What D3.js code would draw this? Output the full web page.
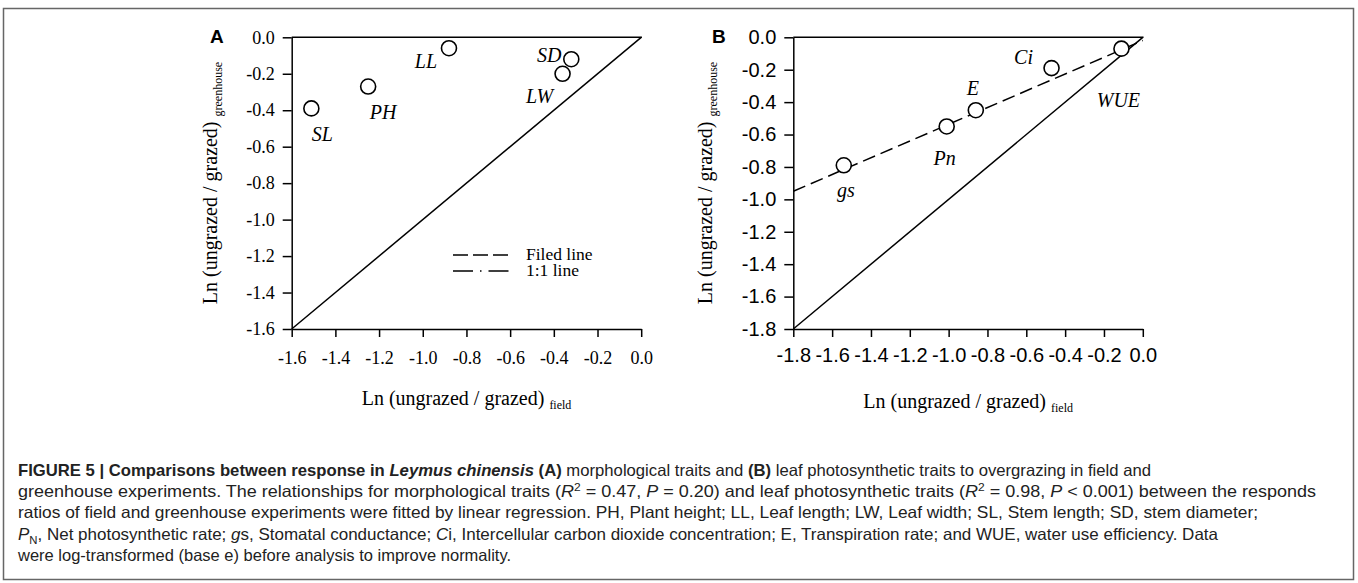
<!DOCTYPE html>
<html>
<head>
<meta charset="utf-8">
<script src="https://cdn.jsdelivr.net/npm/d3@7"></script>
<style>
  body { margin: 0; background: #fff; }
  svg { display: block; }
</style>
</head>
<body>
<svg id="fig" width="1358" height="583"></svg>
<script>
// ---- data ----
// panel A: morphological traits
const traitsA = ['SL', 'PH', 'LL', 'SD', 'LW'];
const fieldA = [-1.51, -1.25, -0.88, -0.32, -0.36];
const greenA = [-0.39, -0.27, -0.06, -0.12, -0.20];
const ticksA = [-1.6, -1.4, -1.2, -1.0, -0.8, -0.6, -0.4, -0.2, 0.0];

// panel B: leaf photosynthetic traits
const traitsB = ['gs', 'Pn', 'E', 'Ci', 'WUE'];
const fieldB = [-1.54, -1.01, -0.86, -0.47, -0.11];
const greenB = [-0.79, -0.55, -0.45, -0.19, -0.07];
const ticksB = [-1.8, -1.6, -1.4, -1.2, -1.0, -0.8, -0.6, -0.4, -0.2, 0.0];
// fitted (field) line for B, end points
const fitX = [-1.8, 0.0];
const fitY = [-0.95, -0.02];

const legendLabels = ['Filed line', '1:1 line'];

const svg = d3.select('#fig');
const fmt = function (d) { return d3.format('.1f')(d).replace('\u2212', '-'); };

// outer frame
svg.append('rect')
    .attr('x', 3.5).attr('y', 8.5)
    .attr('width', 1350).attr('height', 571)
    .attr('fill', 'none')
    .attr('stroke', '#666')
    .attr('stroke-width', 1.5);

function panel (opt) {
    const x = d3.scaleLinear().domain(opt.domain).range([opt.left, opt.left + 349.5]);
    const y = d3.scaleLinear().domain(opt.domain).range([329, 37.3]);
    const g = svg.append('g');

    const xAxis = d3.axisBottom(x).tickValues(opt.ticks).tickFormat(fmt)
        .tickSizeInner(8).tickSizeOuter(0).tickPadding(opt.xPad);
    const yAxis = d3.axisLeft(y).tickValues(opt.ticks).tickFormat(fmt)
        .tickSizeInner(9).tickSizeOuter(0).tickPadding(8);

    const gx = g.append('g').attr('transform', 'translate(0,329)').call(xAxis);
    const gy = g.append('g').attr('transform', 'translate(' + opt.left + ',0)').call(yAxis);
    [gx, gy].forEach(function (a) {
        a.selectAll('path, line').attr('stroke', '#000').attr('stroke-width', 1.5);
        a.selectAll('text')
            .attr('fill', '#000')
            .style('font-family', opt.tickFont)
            .style('font-size', opt.tickSize + 'px');
    });

    // top frame line
    g.append('line')
        .attr('x1', x(opt.domain[0])).attr('x2', x(opt.domain[1]) + 0.75)
        .attr('y1', y(0)).attr('y2', y(0))
        .attr('stroke', '#000').attr('stroke-width', 1.5);

    // 1:1 line
    g.append('line')
        .attr('x1', x(opt.domain[0])).attr('y1', y(opt.domain[0]))
        .attr('x2', x(0)).attr('y2', y(0))
        .attr('stroke', '#000').attr('stroke-width', 1.5);

    if (opt.fit) {
        g.append('line')
            .attr('x1', x(fitX[0])).attr('y1', y(fitY[0]))
            .attr('x2', x(fitX[1])).attr('y2', y(fitY[1]))
            .attr('stroke', '#000').attr('stroke-width', 1.5)
            .attr('stroke-dasharray', '13,6');
    }

    g.selectAll('circle.pt')
        .data(opt.xs).enter()
        .append('circle')
        .attr('class', 'pt')
        .attr('cx', function (d) { return x(d); })
        .attr('cy', function (d, i) { return y(opt.ys[i]); })
        .attr('r', 7.5)
        .attr('fill', '#fff')
        .attr('stroke', '#000')
        .attr('stroke-width', 1.6);

    g.selectAll('text.lab')
        .data(opt.names).enter()
        .append('text')
        .attr('class', 'lab')
        .attr('x', function (d, i) { return x(opt.xs[i]) + opt.offs[d][0]; })
        .attr('y', function (d, i) { return y(opt.ys[i]) + opt.offs[d][1]; })
        .attr('text-anchor', 'middle')
        .style('font-family', '"Liberation Serif", "Times New Roman", serif')
        .style('font-style', 'italic')
        .style('font-size', '20px')
        .text(function (d) { return d; });

    // panel letter
    g.append('text')
        .attr('x', opt.letterX).attr('y', 43)
        .style('font-family', '"Liberation Sans", Arial, sans-serif')
        .style('font-weight', 'bold')
        .style('font-size', '19px')
        .text(opt.letter);

    // x title
    const xt = g.append('text')
        .attr('x', opt.left + 70).attr('y', opt.xTitleY)
        .style('font-family', '"Liberation Serif", "Times New Roman", serif')
        .style('font-size', '20px');
    xt.append('tspan').text('Ln (ungrazed / grazed) ');
    xt.append('tspan').attr('dy', 4).style('font-size', '12px').text('field');

    // y title
    const yt = g.append('text')
        .attr('transform', 'translate(' + opt.yTitleX + ',183) rotate(-90)')
        .attr('text-anchor', 'middle')
        .style('font-family', '"Liberation Serif", "Times New Roman", serif')
        .style('font-size', '20px');
    yt.append('tspan').text('Ln (ungrazed / grazed) ');
    yt.append('tspan').attr('dy', 5).style('font-size', '12px').text('greenhouse');

    return { x: x, y: y, g: g };
}

const pA = panel({
    domain: [-1.6, 0], left: 291.7, ticks: ticksA,
    tickFont: '"Liberation Serif", "Times New Roman", serif', tickSize: 18, xPad: 14,
    xs: fieldA, ys: greenA, names: traitsA,
    offs: { SL: [11, 33], PH: [15, 32], LL: [-23, 20], SD: [-22, 3], LW: [-23, 29] },
    letter: 'A', letterX: 210, xTitleY: 405, yTitleX: 217, fit: false
});

const pB = panel({
    domain: [-1.8, 0], left: 793.3, ticks: ticksB,
    tickFont: '"Liberation Sans", Arial, sans-serif', tickSize: 20, xPad: 11,
    xs: fieldB, ys: greenB, names: traitsB,
    offs: { gs: [2, 32], Pn: [-2, 39], E: [-3, -15], Ci: [-28, -4], WUE: [-3, 58] },
    letter: 'B', letterX: 712, xTitleY: 408, yTitleX: 712, fit: true
});

// legend in panel A
const leg = pA.g.append('g');
const legDash = ['15,5', '20,7,1.5,7'];
legendLabels.forEach(function (t, i) {
    const ly = 255 + i * 16;
    leg.append('line')
        .attr('x1', 453).attr('x2', 508 + i * 4)
        .attr('y1', ly).attr('y2', ly)
        .attr('stroke', '#000').attr('stroke-width', 1.5)
        .attr('stroke-dasharray', legDash[i]);
    leg.append('text')
        .attr('x', 526).attr('y', ly + 5)
        .style('font-family', '"Liberation Serif", "Times New Roman", serif')
        .style('font-size', '17.5px')
        .text(t);
});

// caption
const capLines = [
    [['b', 'FIGURE 5 | Comparisons between response in '], ['bi', 'Leymus chinensis'], ['b', ' (A)'],
     ['', ' morphological traits and '], ['b', '(B)'], ['', ' leaf photosynthetic traits to overgrazing in field and']],
    [['', 'greenhouse experiments. The relationships for morphological traits ('], ['i', 'R'], ['sup', '2'],
     ['', ' = 0.47, '], ['i', 'P'], ['', ' = 0.20) and leaf photosynthetic traits ('], ['i', 'R'], ['sup', '2'],
     ['', ' = 0.98, '], ['i', 'P'], ['', ' < 0.001) between the responds']],
    [['', 'ratios of field and greenhouse experiments were fitted by linear regression. PH, Plant height; LL, Leaf length; LW, Leaf width; SL, Stem length; SD, stem diameter;']],
    [['i', 'P'], ['sub', 'N'], ['', ', Net photosynthetic rate; '], ['i', 'g'], ['', 's, Stomatal conductance; '],
     ['i', 'C'], ['', 'i, Intercellular carbon dioxide concentration; E, Transpiration rate; and WUE, water use efficiency. Data']],
    [['', 'were log-transformed (base e) before analysis to improve normality.']]
];
// right ends of the first four lines; the last line keeps its natural width
const capEnds = [1151, 1316, 1258, 1218, null];
const shift = { sup: -6, sub: 4 };

capLines.forEach(function (parts, li) {
    const t = svg.append('text')
        .attr('x', 18).attr('y', 476 + li * 21.2)
        .attr('fill', '#222')
        .style('font-family', '"Liberation Sans", Arial, sans-serif')
        .style('font-size', '16.5px');
    if (capEnds[li]) {
        t.attr('textLength', capEnds[li] - 18).attr('lengthAdjust', 'spacingAndGlyphs');
    }
    let cur = 0;
    parts.forEach(function (p) {
        const s = t.append('tspan').text(p[1]);
        const want = shift[p[0]] || 0;
        if (want !== cur) s.attr('dy', want - cur);
        cur = want;
        if (p[0] === 'b') s.style('font-weight', 'bold');
        if (p[0] === 'bi') s.style('font-weight', 'bold').style('font-style', 'italic');
        if (p[0] === 'i') s.style('font-style', 'italic');
        if (p[0] === 'sup' || p[0] === 'sub') s.style('font-size', '11px');
    });
});
</script>
</body>
</html>
